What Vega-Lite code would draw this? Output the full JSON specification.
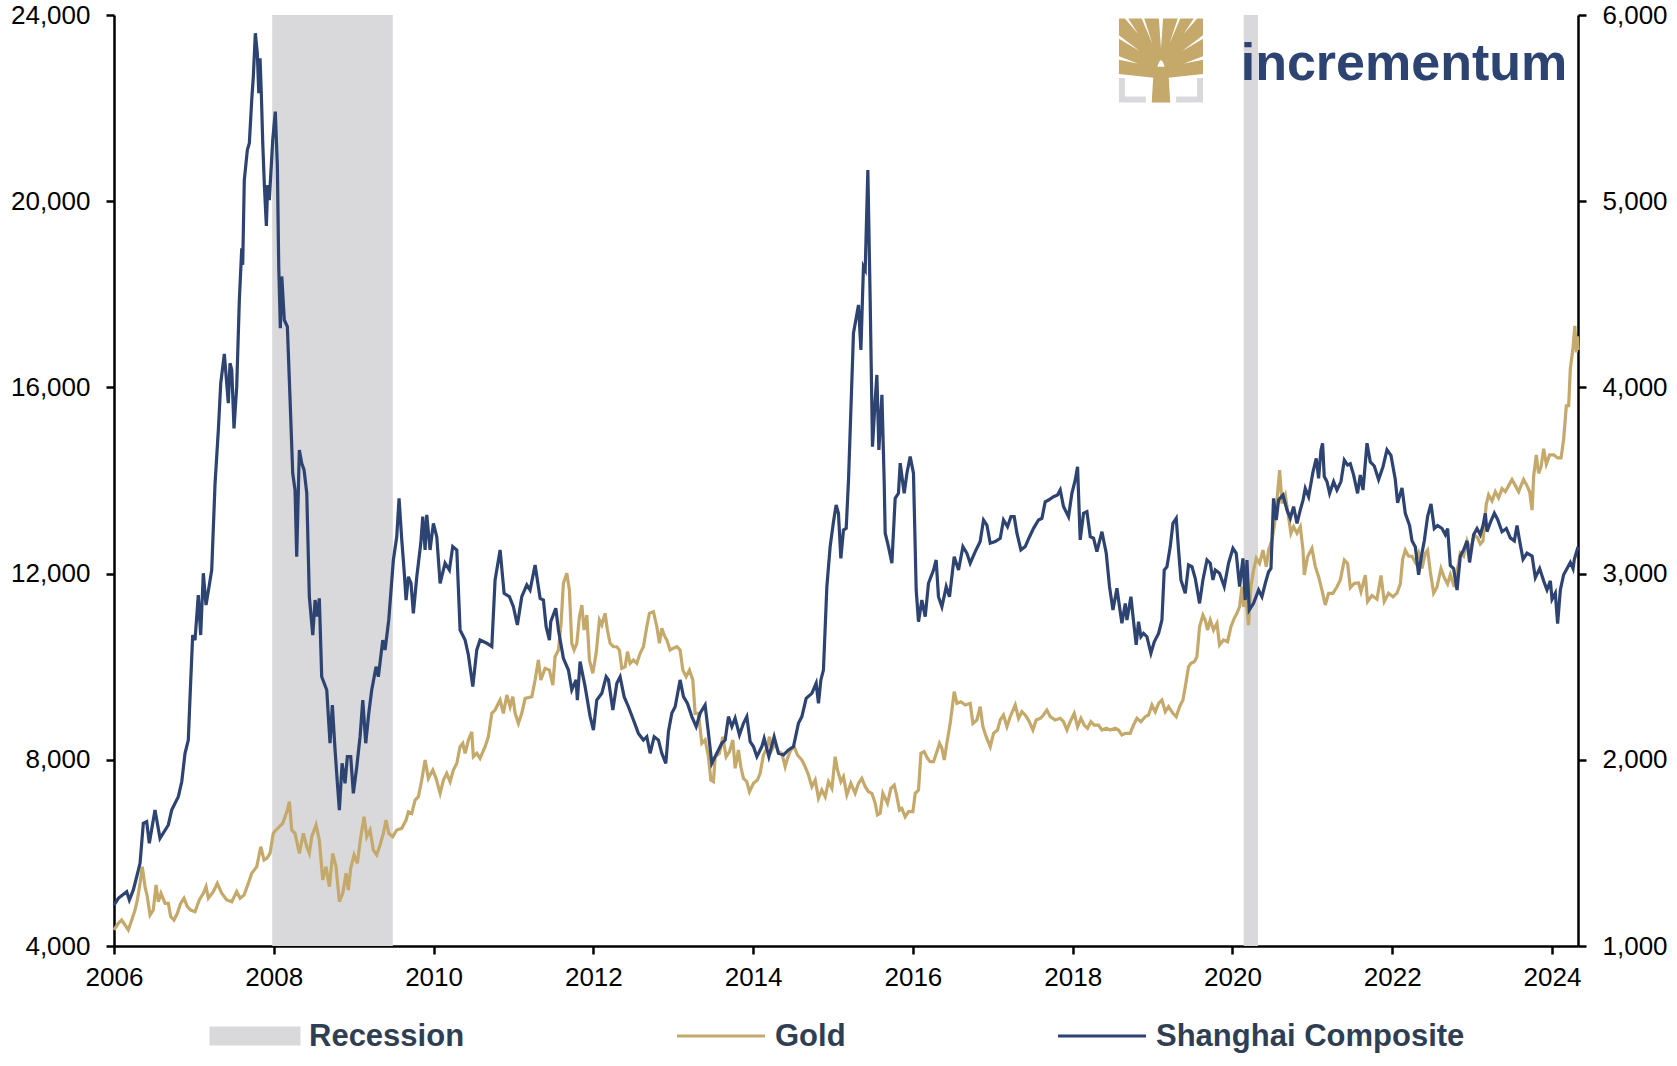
{
  "$schema": "https://vega.github.io/schema/vega-lite/v6.json",
  "width": 1464,
  "height": 931,
  "autosize": {"type": "none"},
  "padding": {"left": 114, "top": 15, "right": 99, "bottom": 120},
  "background": "white",
  "config": {
    "view": {"stroke": null},
    "font": "Liberation Sans",
    "axis": {"grid": false, "domainColor": "#000000", "domainWidth": 2.5, "tickColor": "#000000", "tickWidth": 2.5, "tickSize": 8, "labelFont": "Liberation Sans", "labelFontSize": 26, "labelColor": "#000000", "labelOverlap": false, "labelBound": false, "labelFlush": false}
  },
  "datasets": {
    "recessions": [{"start": 2007.98, "end": 2009.49}, {"start": 2020.14, "end": 2020.32}],
    "gold": [
{"t":2006.000,"v":4344},{"t":2006.054,"v":4487},{"t":2006.096,"v":4558},{"t":2006.138,"v":4451},{"t":2006.179,"v":4344},{"t":2006.222,"v":4558},{"t":2006.263,"v":4773},{"t":2006.292,"v":4988},{"t":2006.326,"v":5346},{"t":2006.354,"v":5704},{"t":2006.388,"v":5274},{"t":2006.417,"v":5059},{"t":2006.451,"v":4666},{"t":2006.492,"v":4773},{"t":2006.526,"v":5310},{"t":2006.555,"v":4952},{"t":2006.588,"v":5132},{"t":2006.639,"v":4917},{"t":2006.680,"v":4917},{"t":2006.710,"v":4630},{"t":2006.751,"v":4558},{"t":2006.793,"v":4702},{"t":2006.835,"v":4917},{"t":2006.876,"v":5025},{"t":2006.918,"v":4845},{"t":2006.960,"v":4773},{"t":2007.014,"v":4737},{"t":2007.068,"v":4988},{"t":2007.118,"v":5132},{"t":2007.152,"v":5274},{"t":2007.181,"v":5025},{"t":2007.243,"v":5167},{"t":2007.293,"v":5346},{"t":2007.348,"v":5132},{"t":2007.411,"v":4988},{"t":2007.474,"v":4952},{"t":2007.536,"v":5167},{"t":2007.578,"v":5025},{"t":2007.628,"v":5096},{"t":2007.681,"v":5346},{"t":2007.724,"v":5561},{"t":2007.787,"v":5704},{"t":2007.837,"v":6133},{"t":2007.878,"v":5847},{"t":2007.912,"v":5883},{"t":2007.953,"v":5991},{"t":2007.994,"v":6421},{"t":2008.028,"v":6492},{"t":2008.070,"v":6562},{"t":2008.112,"v":6636},{"t":2008.141,"v":6777},{"t":2008.170,"v":6921},{"t":2008.195,"v":7100},{"t":2008.225,"v":6492},{"t":2008.266,"v":6421},{"t":2008.320,"v":5991},{"t":2008.370,"v":6421},{"t":2008.413,"v":6133},{"t":2008.445,"v":5991},{"t":2008.475,"v":6348},{"t":2008.529,"v":6599},{"t":2008.570,"v":6277},{"t":2008.613,"v":5418},{"t":2008.654,"v":5704},{"t":2008.696,"v":5274},{"t":2008.738,"v":5991},{"t":2008.779,"v":5704},{"t":2008.821,"v":4952},{"t":2008.863,"v":5132},{"t":2008.905,"v":5561},{"t":2008.933,"v":5203},{"t":2008.963,"v":5669},{"t":2009.005,"v":5955},{"t":2009.046,"v":5776},{"t":2009.089,"v":6348},{"t":2009.130,"v":6777},{"t":2009.164,"v":6348},{"t":2009.205,"v":6492},{"t":2009.246,"v":6062},{"t":2009.289,"v":5955},{"t":2009.330,"v":6169},{"t":2009.372,"v":6421},{"t":2009.405,"v":6706},{"t":2009.439,"v":6421},{"t":2009.489,"v":6348},{"t":2009.539,"v":6492},{"t":2009.602,"v":6528},{"t":2009.656,"v":6706},{"t":2009.685,"v":6885},{"t":2009.727,"v":6850},{"t":2009.769,"v":7136},{"t":2009.810,"v":7207},{"t":2009.852,"v":7566},{"t":2009.894,"v":7995},{"t":2009.935,"v":7602},{"t":2009.990,"v":7781},{"t":2010.031,"v":7602},{"t":2010.082,"v":7280},{"t":2010.123,"v":7566},{"t":2010.165,"v":7710},{"t":2010.207,"v":7529},{"t":2010.248,"v":7781},{"t":2010.291,"v":7925},{"t":2010.332,"v":8281},{"t":2010.366,"v":8354},{"t":2010.395,"v":8139},{"t":2010.436,"v":8425},{"t":2010.478,"v":8603},{"t":2010.498,"v":8066},{"t":2010.541,"v":8139},{"t":2010.582,"v":8031},{"t":2010.645,"v":8281},{"t":2010.686,"v":8496},{"t":2010.729,"v":8998},{"t":2010.770,"v":9069},{"t":2010.811,"v":9213},{"t":2010.833,"v":9284},{"t":2010.874,"v":8998},{"t":2010.917,"v":9391},{"t":2010.958,"v":9140},{"t":2010.992,"v":9355},{"t":2011.021,"v":8998},{"t":2011.062,"v":8783},{"t":2011.104,"v":8998},{"t":2011.146,"v":9320},{"t":2011.230,"v":9355},{"t":2011.271,"v":9714},{"t":2011.312,"v":10143},{"t":2011.342,"v":9714},{"t":2011.396,"v":9965},{"t":2011.450,"v":9928},{"t":2011.493,"v":9606},{"t":2011.521,"v":10214},{"t":2011.563,"v":10358},{"t":2011.596,"v":10931},{"t":2011.625,"v":11791},{"t":2011.668,"v":12006},{"t":2011.700,"v":11647},{"t":2011.730,"v":10502},{"t":2011.759,"v":10358},{"t":2011.793,"v":10502},{"t":2011.826,"v":11074},{"t":2011.856,"v":11325},{"t":2011.884,"v":10788},{"t":2011.918,"v":11110},{"t":2011.951,"v":10143},{"t":2011.993,"v":9857},{"t":2012.035,"v":10287},{"t":2012.076,"v":11003},{"t":2012.106,"v":10895},{"t":2012.147,"v":11147},{"t":2012.176,"v":10788},{"t":2012.210,"v":10502},{"t":2012.251,"v":10429},{"t":2012.294,"v":10429},{"t":2012.326,"v":10358},{"t":2012.356,"v":9965},{"t":2012.398,"v":9999},{"t":2012.427,"v":10322},{"t":2012.460,"v":10072},{"t":2012.502,"v":10143},{"t":2012.544,"v":10072},{"t":2012.586,"v":10287},{"t":2012.627,"v":10429},{"t":2012.669,"v":10858},{"t":2012.702,"v":11147},{"t":2012.752,"v":11181},{"t":2012.795,"v":10858},{"t":2012.827,"v":10502},{"t":2012.857,"v":10824},{"t":2012.886,"v":10680},{"t":2012.920,"v":10573},{"t":2012.961,"v":10358},{"t":2012.995,"v":10393},{"t":2013.045,"v":10429},{"t":2013.086,"v":10358},{"t":2013.120,"v":9928},{"t":2013.161,"v":9785},{"t":2013.203,"v":9928},{"t":2013.245,"v":9714},{"t":2013.274,"v":8998},{"t":2013.315,"v":8998},{"t":2013.358,"v":8354},{"t":2013.399,"v":8425},{"t":2013.441,"v":8066},{"t":2013.471,"v":7566},{"t":2013.503,"v":7529},{"t":2013.525,"v":8066},{"t":2013.578,"v":8139},{"t":2013.621,"v":8496},{"t":2013.662,"v":8066},{"t":2013.704,"v":8174},{"t":2013.746,"v":8425},{"t":2013.775,"v":7817},{"t":2013.816,"v":8210},{"t":2013.846,"v":7851},{"t":2013.879,"v":7602},{"t":2013.921,"v":7529},{"t":2013.954,"v":7314},{"t":2014.004,"v":7495},{"t":2014.054,"v":7566},{"t":2014.088,"v":7710},{"t":2014.129,"v":8103},{"t":2014.172,"v":8247},{"t":2014.204,"v":8496},{"t":2014.234,"v":8210},{"t":2014.276,"v":8354},{"t":2014.317,"v":8174},{"t":2014.360,"v":8139},{"t":2014.401,"v":7851},{"t":2014.430,"v":8031},{"t":2014.472,"v":8210},{"t":2014.514,"v":8281},{"t":2014.555,"v":8103},{"t":2014.610,"v":7995},{"t":2014.651,"v":7851},{"t":2014.693,"v":7673},{"t":2014.735,"v":7422},{"t":2014.777,"v":7566},{"t":2014.818,"v":7173},{"t":2014.860,"v":7351},{"t":2014.902,"v":7207},{"t":2014.943,"v":7529},{"t":2014.986,"v":7387},{"t":2015.027,"v":8066},{"t":2015.056,"v":7781},{"t":2015.098,"v":7529},{"t":2015.131,"v":7637},{"t":2015.173,"v":7243},{"t":2015.223,"v":7495},{"t":2015.277,"v":7280},{"t":2015.319,"v":7495},{"t":2015.361,"v":7602},{"t":2015.403,"v":7422},{"t":2015.444,"v":7314},{"t":2015.486,"v":7280},{"t":2015.528,"v":7065},{"t":2015.556,"v":6814},{"t":2015.590,"v":6850},{"t":2015.624,"v":7280},{"t":2015.653,"v":7173},{"t":2015.682,"v":7065},{"t":2015.724,"v":7387},{"t":2015.766,"v":7458},{"t":2015.791,"v":7280},{"t":2015.832,"v":6921},{"t":2015.862,"v":6957},{"t":2015.903,"v":6777},{"t":2015.945,"v":6885},{"t":2016.000,"v":6885},{"t":2016.029,"v":7280},{"t":2016.070,"v":7351},{"t":2016.100,"v":8139},{"t":2016.141,"v":8174},{"t":2016.183,"v":8031},{"t":2016.216,"v":7959},{"t":2016.258,"v":7959},{"t":2016.300,"v":8174},{"t":2016.333,"v":8354},{"t":2016.363,"v":8247},{"t":2016.392,"v":7995},{"t":2016.425,"v":8354},{"t":2016.467,"v":8783},{"t":2016.517,"v":9463},{"t":2016.551,"v":9213},{"t":2016.601,"v":9248},{"t":2016.655,"v":9177},{"t":2016.717,"v":9213},{"t":2016.751,"v":8783},{"t":2016.801,"v":8855},{"t":2016.842,"v":9140},{"t":2016.876,"v":8711},{"t":2016.917,"v":8496},{"t":2016.968,"v":8281},{"t":2017.009,"v":8568},{"t":2017.059,"v":8640},{"t":2017.093,"v":8855},{"t":2017.134,"v":8962},{"t":2017.177,"v":8711},{"t":2017.218,"v":8926},{"t":2017.281,"v":9177},{"t":2017.322,"v":8891},{"t":2017.364,"v":9033},{"t":2017.406,"v":8962},{"t":2017.447,"v":8855},{"t":2017.502,"v":8640},{"t":2017.543,"v":8855},{"t":2017.594,"v":8891},{"t":2017.635,"v":8962},{"t":2017.677,"v":9069},{"t":2017.719,"v":8926},{"t":2017.781,"v":8855},{"t":2017.844,"v":8891},{"t":2017.885,"v":8818},{"t":2017.928,"v":8640},{"t":2017.969,"v":8818},{"t":2018.019,"v":8998},{"t":2018.061,"v":8711},{"t":2018.103,"v":8891},{"t":2018.144,"v":8747},{"t":2018.186,"v":8676},{"t":2018.228,"v":8818},{"t":2018.270,"v":8747},{"t":2018.323,"v":8747},{"t":2018.366,"v":8640},{"t":2018.420,"v":8676},{"t":2018.470,"v":8640},{"t":2018.533,"v":8676},{"t":2018.574,"v":8640},{"t":2018.616,"v":8532},{"t":2018.658,"v":8568},{"t":2018.720,"v":8568},{"t":2018.762,"v":8747},{"t":2018.804,"v":8891},{"t":2018.854,"v":8818},{"t":2018.908,"v":8926},{"t":2018.949,"v":8962},{"t":2018.992,"v":9177},{"t":2019.033,"v":9033},{"t":2019.075,"v":9213},{"t":2019.117,"v":9284},{"t":2019.159,"v":9033},{"t":2019.200,"v":9140},{"t":2019.255,"v":8998},{"t":2019.296,"v":8926},{"t":2019.338,"v":9140},{"t":2019.380,"v":9284},{"t":2019.409,"v":9570},{"t":2019.450,"v":9999},{"t":2019.480,"v":10072},{"t":2019.522,"v":10107},{"t":2019.555,"v":10214},{"t":2019.588,"v":10858},{"t":2019.630,"v":11110},{"t":2019.659,"v":11003},{"t":2019.688,"v":10788},{"t":2019.722,"v":11003},{"t":2019.763,"v":10788},{"t":2019.806,"v":10931},{"t":2019.838,"v":10466},{"t":2019.888,"v":10573},{"t":2019.939,"v":10537},{"t":2019.981,"v":10858},{"t":2020.022,"v":11039},{"t":2020.056,"v":11147},{"t":2020.089,"v":11289},{"t":2020.119,"v":11718},{"t":2020.139,"v":11289},{"t":2020.173,"v":11432},{"t":2020.201,"v":10895},{"t":2020.231,"v":11718},{"t":2020.264,"v":12076},{"t":2020.298,"v":12328},{"t":2020.339,"v":12220},{"t":2020.382,"v":12506},{"t":2020.423,"v":12148},{"t":2020.452,"v":12506},{"t":2020.494,"v":12721},{"t":2020.523,"v":13007},{"t":2020.557,"v":13580},{"t":2020.590,"v":14224},{"t":2020.620,"v":13509},{"t":2020.661,"v":13687},{"t":2020.702,"v":13222},{"t":2020.732,"v":12865},{"t":2020.765,"v":13007},{"t":2020.808,"v":12865},{"t":2020.849,"v":13007},{"t":2020.883,"v":12506},{"t":2020.899,"v":11969},{"t":2020.940,"v":12363},{"t":2020.995,"v":12542},{"t":2021.037,"v":12148},{"t":2021.078,"v":11933},{"t":2021.120,"v":11647},{"t":2021.162,"v":11325},{"t":2021.203,"v":11576},{"t":2021.258,"v":11576},{"t":2021.308,"v":11718},{"t":2021.350,"v":11862},{"t":2021.400,"v":12291},{"t":2021.441,"v":12220},{"t":2021.475,"v":11700},{"t":2021.525,"v":11790},{"t":2021.579,"v":11800},{"t":2021.609,"v":11611},{"t":2021.663,"v":11969},{"t":2021.691,"v":11400},{"t":2021.746,"v":11530},{"t":2021.809,"v":11450},{"t":2021.859,"v":11960},{"t":2021.900,"v":11400},{"t":2021.954,"v":11580},{"t":2022.009,"v":11500},{"t":2022.059,"v":11580},{"t":2022.101,"v":11778},{"t":2022.130,"v":12306},{"t":2022.163,"v":12504},{"t":2022.205,"v":12373},{"t":2022.247,"v":12373},{"t":2022.289,"v":12240},{"t":2022.330,"v":12438},{"t":2022.372,"v":12109},{"t":2022.414,"v":12438},{"t":2022.443,"v":12504},{"t":2022.476,"v":12042},{"t":2022.518,"v":11580},{"t":2022.560,"v":11711},{"t":2022.610,"v":12109},{"t":2022.652,"v":11911},{"t":2022.693,"v":11778},{"t":2022.727,"v":11976},{"t":2022.777,"v":11711},{"t":2022.811,"v":12042},{"t":2022.852,"v":12438},{"t":2022.893,"v":12373},{"t":2022.936,"v":12702},{"t":2022.977,"v":12504},{"t":2023.027,"v":12835},{"t":2023.069,"v":12768},{"t":2023.102,"v":12635},{"t":2023.136,"v":12702},{"t":2023.177,"v":13494},{"t":2023.206,"v":13692},{"t":2023.249,"v":13561},{"t":2023.290,"v":13758},{"t":2023.331,"v":13627},{"t":2023.374,"v":13825},{"t":2023.415,"v":13758},{"t":2023.457,"v":13890},{"t":2023.499,"v":14022},{"t":2023.541,"v":13890},{"t":2023.582,"v":13758},{"t":2023.612,"v":13890},{"t":2023.644,"v":14022},{"t":2023.687,"v":13890},{"t":2023.720,"v":13758},{"t":2023.750,"v":13363},{"t":2023.770,"v":14089},{"t":2023.803,"v":14551},{"t":2023.832,"v":14154},{"t":2023.862,"v":14287},{"t":2023.895,"v":14682},{"t":2023.929,"v":14353},{"t":2023.970,"v":14551},{"t":2024.020,"v":14551},{"t":2024.070,"v":14485},{"t":2024.113,"v":14485},{"t":2024.145,"v":14880},{"t":2024.179,"v":15606},{"t":2024.208,"v":15606},{"t":2024.229,"v":16398},{"t":2024.263,"v":16860},{"t":2024.285,"v":17320},{"t":2024.305,"v":16750},{"t":2024.318,"v":17100},{"t":2024.325,"v":16800}
    ],
    "shanghai": [
{"t":2006.000,"v":1220},{"t":2006.054,"v":1256},{"t":2006.159,"v":1292},{"t":2006.192,"v":1247},{"t":2006.242,"v":1301},{"t":2006.284,"v":1372},{"t":2006.326,"v":1444},{"t":2006.367,"v":1659},{"t":2006.409,"v":1668},{"t":2006.442,"v":1552},{"t":2006.513,"v":1730},{"t":2006.576,"v":1578},{"t":2006.680,"v":1650},{"t":2006.722,"v":1730},{"t":2006.805,"v":1802},{"t":2006.848,"v":1882},{"t":2006.889,"v":2035},{"t":2006.930,"v":2106},{"t":2006.952,"v":2339},{"t":2006.985,"v":2670},{"t":2007.014,"v":2643},{"t":2007.055,"v":2885},{"t":2007.085,"v":2670},{"t":2007.118,"v":3002},{"t":2007.152,"v":2831},{"t":2007.193,"v":2939},{"t":2007.223,"v":3019},{"t":2007.265,"v":3485},{"t":2007.306,"v":3771},{"t":2007.336,"v":4022},{"t":2007.381,"v":4180},{"t":2007.431,"v":3915},{"t":2007.452,"v":4130},{"t":2007.474,"v":4094},{"t":2007.502,"v":3780},{"t":2007.536,"v":4004},{"t":2007.569,"v":4470},{"t":2007.599,"v":4747},{"t":2007.611,"v":4658},{"t":2007.631,"v":5114},{"t":2007.669,"v":5275},{"t":2007.694,"v":5311},{"t":2007.724,"v":5544},{"t":2007.744,"v":5669},{"t":2007.769,"v":5902},{"t":2007.794,"v":5795},{"t":2007.812,"v":5580},{"t":2007.828,"v":5768},{"t":2007.844,"v":5580},{"t":2007.862,"v":5311},{"t":2007.882,"v":5087},{"t":2007.907,"v":4867},{"t":2007.924,"v":5087},{"t":2007.944,"v":5006},{"t":2007.987,"v":5329},{"t":2008.019,"v":5481},{"t":2008.045,"v":5186},{"t":2008.062,"v":4649},{"t":2008.082,"v":4318},{"t":2008.100,"v":4596},{"t":2008.132,"v":4362},{"t":2008.170,"v":4326},{"t":2008.204,"v":3933},{"t":2008.237,"v":3539},{"t":2008.266,"v":3449},{"t":2008.287,"v":3091},{"t":2008.320,"v":3664},{"t":2008.350,"v":3593},{"t":2008.379,"v":3557},{"t":2008.413,"v":3431},{"t":2008.445,"v":2876},{"t":2008.488,"v":2670},{"t":2008.517,"v":2858},{"t":2008.545,"v":2769},{"t":2008.570,"v":2867},{"t":2008.600,"v":2446},{"t":2008.663,"v":2375},{"t":2008.704,"v":2089},{"t":2008.733,"v":2294},{"t":2008.767,"v":2053},{"t":2008.796,"v":1874},{"t":2008.821,"v":1730},{"t":2008.855,"v":1981},{"t":2008.892,"v":1874},{"t":2008.921,"v":2017},{"t":2008.963,"v":2017},{"t":2008.996,"v":1820},{"t":2009.039,"v":1963},{"t":2009.080,"v":2124},{"t":2009.114,"v":2321},{"t":2009.151,"v":2089},{"t":2009.189,"v":2250},{"t":2009.226,"v":2375},{"t":2009.280,"v":2500},{"t":2009.309,"v":2446},{"t":2009.364,"v":2643},{"t":2009.393,"v":2590},{"t":2009.439,"v":2751},{"t":2009.497,"v":3073},{"t":2009.539,"v":3198},{"t":2009.568,"v":3404},{"t":2009.602,"v":3181},{"t":2009.631,"v":3019},{"t":2009.656,"v":2858},{"t":2009.685,"v":2983},{"t":2009.718,"v":2948},{"t":2009.747,"v":2787},{"t":2009.790,"v":2983},{"t":2009.840,"v":3163},{"t":2009.865,"v":3306},{"t":2009.894,"v":3127},{"t":2009.915,"v":3315},{"t":2009.956,"v":3127},{"t":2009.998,"v":3270},{"t":2010.040,"v":3198},{"t":2010.082,"v":2948},{"t":2010.144,"v":3056},{"t":2010.198,"v":3019},{"t":2010.240,"v":3145},{"t":2010.291,"v":3127},{"t":2010.332,"v":2697},{"t":2010.395,"v":2643},{"t":2010.436,"v":2563},{"t":2010.491,"v":2393},{"t":2010.541,"v":2590},{"t":2010.582,"v":2643},{"t":2010.666,"v":2626},{"t":2010.729,"v":2608},{"t":2010.770,"v":2966},{"t":2010.833,"v":3127},{"t":2010.883,"v":2894},{"t":2010.949,"v":2876},{"t":2010.999,"v":2822},{"t":2011.049,"v":2724},{"t":2011.104,"v":2876},{"t":2011.167,"v":2939},{"t":2011.208,"v":2912},{"t":2011.271,"v":3046},{"t":2011.334,"v":2867},{"t":2011.375,"v":2858},{"t":2011.409,"v":2715},{"t":2011.450,"v":2643},{"t":2011.467,"v":2742},{"t":2011.530,"v":2814},{"t":2011.563,"v":2697},{"t":2011.625,"v":2545},{"t":2011.688,"v":2482},{"t":2011.730,"v":2375},{"t":2011.784,"v":2429},{"t":2011.800,"v":2321},{"t":2011.834,"v":2527},{"t":2011.897,"v":2393},{"t":2011.960,"v":2232},{"t":2012.001,"v":2160},{"t":2012.043,"v":2321},{"t":2012.106,"v":2357},{"t":2012.160,"v":2446},{"t":2012.189,"v":2429},{"t":2012.244,"v":2268},{"t":2012.294,"v":2411},{"t":2012.335,"v":2446},{"t":2012.385,"v":2339},{"t":2012.439,"v":2285},{"t":2012.502,"v":2214},{"t":2012.564,"v":2142},{"t":2012.627,"v":2106},{"t":2012.669,"v":2124},{"t":2012.711,"v":2035},{"t":2012.761,"v":2124},{"t":2012.815,"v":2106},{"t":2012.857,"v":2035},{"t":2012.907,"v":1981},{"t":2012.940,"v":2151},{"t":2012.982,"v":2250},{"t":2013.024,"v":2285},{"t":2013.086,"v":2429},{"t":2013.128,"v":2339},{"t":2013.178,"v":2303},{"t":2013.233,"v":2232},{"t":2013.287,"v":2178},{"t":2013.337,"v":2250},{"t":2013.399,"v":2294},{"t":2013.441,"v":2142},{"t":2013.483,"v":1981},{"t":2013.546,"v":2035},{"t":2013.608,"v":2089},{"t":2013.650,"v":2106},{"t":2013.691,"v":2232},{"t":2013.734,"v":2178},{"t":2013.775,"v":2223},{"t":2013.829,"v":2133},{"t":2013.879,"v":2196},{"t":2013.921,"v":2232},{"t":2013.963,"v":2097},{"t":2014.004,"v":2071},{"t":2014.047,"v":2017},{"t":2014.109,"v":2071},{"t":2014.138,"v":2115},{"t":2014.197,"v":2017},{"t":2014.263,"v":2124},{"t":2014.317,"v":2035},{"t":2014.380,"v":2026},{"t":2014.442,"v":2053},{"t":2014.505,"v":2071},{"t":2014.567,"v":2196},{"t":2014.610,"v":2232},{"t":2014.664,"v":2330},{"t":2014.735,"v":2357},{"t":2014.789,"v":2411},{"t":2014.818,"v":2303},{"t":2014.848,"v":2429},{"t":2014.880,"v":2482},{"t":2014.923,"v":2930},{"t":2014.964,"v":3145},{"t":2015.006,"v":3279},{"t":2015.039,"v":3369},{"t":2015.068,"v":3324},{"t":2015.098,"v":3082},{"t":2015.131,"v":3234},{"t":2015.165,"v":3243},{"t":2015.194,"v":3503},{"t":2015.256,"v":4291},{"t":2015.319,"v":4443},{"t":2015.349,"v":4201},{"t":2015.381,"v":4649},{"t":2015.403,"v":4631},{"t":2015.436,"v":5168},{"t":2015.465,"v":4470},{"t":2015.494,"v":3682},{"t":2015.528,"v":3933},{"t":2015.549,"v":4067},{"t":2015.574,"v":3664},{"t":2015.612,"v":3960},{"t":2015.640,"v":3503},{"t":2015.653,"v":3217},{"t":2015.694,"v":3145},{"t":2015.737,"v":3056},{"t":2015.778,"v":3404},{"t":2015.819,"v":3431},{"t":2015.841,"v":3593},{"t":2015.891,"v":3431},{"t":2015.925,"v":3539},{"t":2015.966,"v":3628},{"t":2016.007,"v":3539},{"t":2016.041,"v":2912},{"t":2016.070,"v":2742},{"t":2016.112,"v":2858},{"t":2016.154,"v":2769},{"t":2016.195,"v":2948},{"t":2016.258,"v":3019},{"t":2016.291,"v":3073},{"t":2016.320,"v":2876},{"t":2016.363,"v":2822},{"t":2016.417,"v":2930},{"t":2016.458,"v":2876},{"t":2016.517,"v":3091},{"t":2016.571,"v":3019},{"t":2016.626,"v":3145},{"t":2016.676,"v":3109},{"t":2016.717,"v":3056},{"t":2016.780,"v":3118},{"t":2016.842,"v":3172},{"t":2016.884,"v":3288},{"t":2016.926,"v":3261},{"t":2016.968,"v":3163},{"t":2017.030,"v":3172},{"t":2017.093,"v":3190},{"t":2017.134,"v":3288},{"t":2017.184,"v":3252},{"t":2017.227,"v":3306},{"t":2017.268,"v":3306},{"t":2017.302,"v":3217},{"t":2017.352,"v":3127},{"t":2017.406,"v":3145},{"t":2017.460,"v":3198},{"t":2017.510,"v":3243},{"t":2017.572,"v":3288},{"t":2017.615,"v":3297},{"t":2017.656,"v":3386},{"t":2017.698,"v":3395},{"t":2017.760,"v":3413},{"t":2017.810,"v":3422},{"t":2017.844,"v":3449},{"t":2017.885,"v":3360},{"t":2017.948,"v":3306},{"t":2017.990,"v":3431},{"t":2018.032,"v":3503},{"t":2018.061,"v":3574},{"t":2018.094,"v":3181},{"t":2018.136,"v":3324},{"t":2018.178,"v":3333},{"t":2018.220,"v":3198},{"t":2018.261,"v":3190},{"t":2018.303,"v":3118},{"t":2018.366,"v":3225},{"t":2018.420,"v":3109},{"t":2018.461,"v":2930},{"t":2018.504,"v":2805},{"t":2018.554,"v":2921},{"t":2018.586,"v":2822},{"t":2018.616,"v":2733},{"t":2018.658,"v":2840},{"t":2018.679,"v":2751},{"t":2018.729,"v":2876},{"t":2018.762,"v":2742},{"t":2018.795,"v":2617},{"t":2018.824,"v":2742},{"t":2018.854,"v":2661},{"t":2018.887,"v":2679},{"t":2018.929,"v":2661},{"t":2018.979,"v":2572},{"t":2019.021,"v":2634},{"t":2019.075,"v":2679},{"t":2019.117,"v":2751},{"t":2019.146,"v":3019},{"t":2019.180,"v":3037},{"t":2019.221,"v":3145},{"t":2019.255,"v":3270},{"t":2019.296,"v":3297},{"t":2019.325,"v":3127},{"t":2019.355,"v":2966},{"t":2019.409,"v":2894},{"t":2019.450,"v":3046},{"t":2019.493,"v":3037},{"t":2019.534,"v":2975},{"t":2019.588,"v":2840},{"t":2019.630,"v":2966},{"t":2019.681,"v":3073},{"t":2019.722,"v":3056},{"t":2019.756,"v":2966},{"t":2019.785,"v":3019},{"t":2019.838,"v":3002},{"t":2019.897,"v":2930},{"t":2019.951,"v":3056},{"t":2020.006,"v":3136},{"t":2020.047,"v":3109},{"t":2020.089,"v":2930},{"t":2020.131,"v":3082},{"t":2020.160,"v":2858},{"t":2020.181,"v":3073},{"t":2020.210,"v":2805},{"t":2020.264,"v":2840},{"t":2020.327,"v":2912},{"t":2020.369,"v":2876},{"t":2020.411,"v":2948},{"t":2020.452,"v":3010},{"t":2020.482,"v":3028},{"t":2020.514,"v":3404},{"t":2020.548,"v":3288},{"t":2020.577,"v":3395},{"t":2020.632,"v":3422},{"t":2020.682,"v":3342},{"t":2020.724,"v":3297},{"t":2020.765,"v":3360},{"t":2020.808,"v":3270},{"t":2020.849,"v":3342},{"t":2020.883,"v":3395},{"t":2020.911,"v":3458},{"t":2020.953,"v":3413},{"t":2021.008,"v":3547},{"t":2021.049,"v":3619},{"t":2021.078,"v":3512},{"t":2021.108,"v":3664},{"t":2021.128,"v":3700},{"t":2021.149,"v":3521},{"t":2021.183,"v":3494},{"t":2021.216,"v":3431},{"t":2021.266,"v":3494},{"t":2021.308,"v":3449},{"t":2021.358,"v":3494},{"t":2021.400,"v":3610},{"t":2021.441,"v":3583},{"t":2021.475,"v":3590},{"t":2021.516,"v":3530},{"t":2021.566,"v":3431},{"t":2021.600,"v":3530},{"t":2021.634,"v":3449},{"t":2021.684,"v":3700},{"t":2021.725,"v":3600},{"t":2021.775,"v":3578},{"t":2021.829,"v":3505},{"t":2021.884,"v":3574},{"t":2021.934,"v":3665},{"t":2021.984,"v":3635},{"t":2022.038,"v":3505},{"t":2022.067,"v":3380},{"t":2022.122,"v":3460},{"t":2022.163,"v":3324},{"t":2022.217,"v":3258},{"t":2022.247,"v":3176},{"t":2022.289,"v":3143},{"t":2022.330,"v":2994},{"t":2022.372,"v":3110},{"t":2022.401,"v":3176},{"t":2022.443,"v":3308},{"t":2022.485,"v":3374},{"t":2022.526,"v":3242},{"t":2022.568,"v":3258},{"t":2022.623,"v":3242},{"t":2022.664,"v":3209},{"t":2022.693,"v":3242},{"t":2022.727,"v":3044},{"t":2022.768,"v":3027},{"t":2022.811,"v":2912},{"t":2022.852,"v":3094},{"t":2022.893,"v":3127},{"t":2022.936,"v":3176},{"t":2022.968,"v":3060},{"t":2023.018,"v":3209},{"t":2023.061,"v":3242},{"t":2023.102,"v":3209},{"t":2023.136,"v":3258},{"t":2023.165,"v":3324},{"t":2023.186,"v":3225},{"t":2023.228,"v":3275},{"t":2023.278,"v":3324},{"t":2023.319,"v":3291},{"t":2023.374,"v":3225},{"t":2023.428,"v":3242},{"t":2023.478,"v":3192},{"t":2023.528,"v":3176},{"t":2023.562,"v":3258},{"t":2023.594,"v":3176},{"t":2023.637,"v":3077},{"t":2023.687,"v":3110},{"t":2023.750,"v":3094},{"t":2023.791,"v":2978},{"t":2023.845,"v":3027},{"t":2023.895,"v":2961},{"t":2023.937,"v":2912},{"t":2023.979,"v":2961},{"t":2024.000,"v":2862},{"t":2024.041,"v":2895},{"t":2024.070,"v":2731},{"t":2024.104,"v":2912},{"t":2024.145,"v":2994},{"t":2024.188,"v":3027},{"t":2024.229,"v":3060},{"t":2024.263,"v":3027},{"t":2024.279,"v":3077},{"t":2024.325,"v":3143}
    ]
  },
  "layer": [
    {
      "data": {"name": "recessions"},
      "mark": {"type": "rect", "color": "#D9D8DB"},
      "encoding": {
        "x": {"field": "start", "type": "quantitative", "scale": {"domain": [2006, 2024.325], "nice": false, "zero": false},
              "axis": {"values": [2006, 2008, 2010, 2012, 2014, 2016, 2018, 2020, 2022, 2024], "format": "d", "labelPadding": 10, "title": null}},
        "x2": {"field": "end"},
        "color": {"datum": "Recession", "type": "nominal",
          "scale": {"domain": ["Recession", "Gold", "Shanghai Composite"], "range": ["#D9D8DB", "#C4A96B", "#2D4371"]},
          "legend": {"orient": "none", "legendX": 97, "legendY": 1005, "direction": "horizontal", "title": null, "padding": 0,
            "symbolType": "stroke", "symbolSize": 7744, "symbolStrokeWidth": 3,
            "labelFont": "Liberation Sans", "labelFontSize": 31, "labelFontWeight": "bold", "labelColor": "#2F3E52",
            "labelOffset": 10, "columnPadding": 206, "labelLimit": 0,
            "encode": {
              "symbols": {"update": {
                "x": {"value": 44},
                "y": {"value": 16},
                "size": {"value": 7744},
                "shape": {"signal": "datum.value === 'Recession' ? 'M-1,-0.182H1V0.182H-1Z' : 'stroke'"},
                "strokeWidth": {"value": 3},
                "stroke": {"signal": "datum.value === 'Recession' ? 'transparent' : (datum.value === 'Gold' ? '#C4A96B' : '#2D4371')"},
                "fill": {"signal": "datum.value === 'Recession' ? '#D9D8DB' : 'transparent'"},
                "strokeCap": {"value": "butt"},
                "opacity": {"value": 1}
              }},
              "labels": {"update": {
                "x": {"value": 98},
                "y": {"value": 26},
                "align": {"value": "left"},
                "baseline": {"value": "alphabetic"}
              }}
            }}
        }
      }
    },
    {
      "data": {"name": "gold"},
      "mark": {"type": "line", "strokeWidth": 3.2, "interpolate": "linear"},
      "encoding": {
        "x": {"field": "t", "type": "quantitative", "scale": {"domain": [2006, 2024.325], "nice": false, "zero": false}},
        "y": {"field": "v", "type": "quantitative", "scale": {"domain": [4000, 24000], "nice": false, "zero": false},
              "axis": {"orient": "left", "values": [4000, 8000, 12000, 16000, 20000, 24000], "format": ",.0f", "labelPadding": 16, "title": null}},
        "color": {"datum": "Gold", "type": "nominal",
          "scale": {"domain": ["Recession", "Gold", "Shanghai Composite"], "range": ["#D9D8DB", "#C4A96B", "#2D4371"]}}
      }
    },
    {
      "data": {"name": "shanghai"},
      "mark": {"type": "line", "strokeWidth": 3.2, "interpolate": "linear"},
      "encoding": {
        "x": {"field": "t", "type": "quantitative", "scale": {"domain": [2006, 2024.325], "nice": false, "zero": false}},
        "y": {"field": "v", "type": "quantitative", "scale": {"domain": [1000, 6000], "nice": false, "zero": false},
              "axis": {"orient": "right", "values": [1000, 2000, 3000, 4000, 5000, 6000], "format": ",.0f", "labelPadding": 16, "title": null}},
        "color": {"datum": "Shanghai Composite", "type": "nominal",
          "scale": {"domain": ["Recession", "Gold", "Shanghai Composite"], "range": ["#D9D8DB", "#C4A96B", "#2D4371"]}}
      }
    },
    {
      "data": {"values": [{}]},
      "mark": {"type": "text", "text": "incrementum", "font": "Liberation Sans", "fontWeight": "bold", "fontSize": 52, "color": "#2D4371", "align": "right", "baseline": "alphabetic"},
      "encoding": {
        "x": {"datum": 2024.19, "type": "quantitative"},
        "y": {"datum": 22600, "type": "quantitative", "scale": {"domain": [4000, 24000], "nice": false, "zero": false}, "axis": null}
      }
    },
    {
      "data": {"values": [{}]},
      "mark": {"type": "point", "filled": true, "opacity": 1, "color": "#C4A96B", "strokeWidth": 0, "size": 7056,
        "shape": "M-0.22,1L-0.17,0.15L0.17,0.15L0.22,1Z M-0.12,0.42L-1,0.32L-1,-0.02L-0.12,0.16Z M-0.12,0.24L-1,-0.1L-1,-0.52L-0.05,0.05Z M-0.08,0.1L-1,-0.6L-1,-1L-0.86,-1L-0.01,-0.02Z M-0.1,0.05L-0.78,-1L-0.46,-1L-0.03,0Z M-0.07,0L-0.4,-1L-0.05,-1L0.02,0Z M-0.02,0L0.05,-1L0.4,-1L0.07,0Z M0.03,0L0.46,-1L0.78,-1L0.1,0.05Z M0.01,-0.02L0.86,-1L1,-1L1,-0.6L0.08,0.1Z M0.05,0.05L1,-0.52L1,-0.1L0.12,0.24Z M0.12,0.16L1,-0.02L1,0.32L0.12,0.42Z"},
      "encoding": {
        "x": {"datum": 2019.105, "type": "quantitative"},
        "y": {"datum": 23023, "type": "quantitative", "scale": {"domain": [4000, 24000], "nice": false, "zero": false}, "axis": null}
      }
    },
    {
      "data": {"values": [{}]},
      "mark": {"type": "point", "filled": false, "opacity": 1, "color": "#D9D8DB", "strokeWidth": 6, "strokeCap": "butt", "size": 7056,
        "shape": "M-0.93,0.42L-0.93,0.93L-0.36,0.93 M0.36,0.93L0.93,0.93L0.93,0.42"},
      "encoding": {
        "x": {"datum": 2019.105, "type": "quantitative"},
        "y": {"datum": 23023, "type": "quantitative", "scale": {"domain": [4000, 24000], "nice": false, "zero": false}, "axis": null}
      }
    }
  ],
  "resolve": {"scale": {"y": "independent"}, "axis": {"y": "independent"}}
}
